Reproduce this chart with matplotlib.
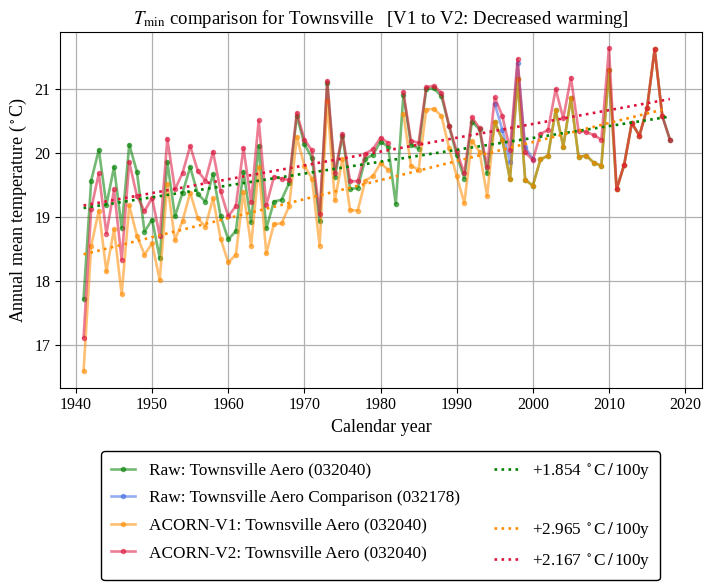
import numpy as np
import matplotlib
matplotlib.use('Agg')
import matplotlib.pyplot as plt
from matplotlib.lines import Line2D

plt.rcParams['font.family'] = ['Liberation Serif', 'DejaVu Serif']
plt.rcParams['mathtext.fontset'] = 'stix'

station = 'Townsville'

# Raw: Townsville Aero (032040), 1941-2018
yearsRaw = list(range(1941, 2019))
tRaw = [17.72, 19.57, 20.05, 19.19, 19.78, 18.83, 20.13, 19.71, 18.77, 18.96,
        18.36, 19.86, 19.01, 19.38, 19.78, 19.36, 19.24, 19.67, 19.01, 18.65,
        18.78, 19.71, 18.92, 20.11, 18.82, 19.24, 19.27, 19.53, 20.58, 20.14,
        19.92, 18.93, 21.09, 19.62, 20.27, 19.44, 19.45, 19.91, 19.97, 20.18,
        20.10, 19.20, 20.91, 20.13, 20.07, 21.00, 21.01, 20.89, 20.42, 19.97,
        19.60, 20.49, 20.37, 19.68, 20.48, 20.21, 19.59, 21.15, 19.58, 19.49,
        19.90, 19.96, 20.67, 20.10, 20.86, 19.94, 19.96, 19.85, 19.80, 21.30,
        19.43, 19.82, 20.47, 20.27, 20.70, 21.62, 20.58, 20.21]

# Raw: Townsville Aero Comparison (032178), 1995-2000
yearsComp = list(range(1995, 2001))
tComp = [20.77, 20.36, 19.86, 21.41, 20.09, 19.91]

# ACORN-V1, 1941-2017 (1982 missing)
yearsV1 = list(range(1941, 2018))
tV1 = [16.59, 18.55, 19.10, 18.15, 18.81, 17.79, 19.18, 18.71, 18.41, 18.59,
       18.01, 19.52, 18.64, 18.94, 19.38, 18.98, 18.85, 19.29, 18.66, 18.29,
       18.41, 19.39, 18.55, 19.78, 18.43, 18.89, 18.90, 19.17, 20.25, 19.80,
       19.60, 18.55, 20.81, 19.26, 19.91, 19.11, 19.10, 19.57, 19.64, 19.84,
       19.74, np.nan, 20.61, 19.80, 19.74, 20.68, 20.69, 20.58, 20.08, 19.64,
       19.22, 20.19, 20.02, 19.33, 20.48, 20.21, 19.59, 21.15, 19.58, 19.49,
       19.90, 19.96, 20.67, 20.10, 20.86, 19.94, 19.96, 19.85, 19.80, 21.30,
       19.43, 19.82, 20.47, 20.27, 20.70, 21.62, 20.58]

# ACORN-V2, 1941-2018 (1982 missing)
yearsV2 = list(range(1941, 2019))
tV2 = [17.11, 19.13, 19.68, 18.74, 19.43, 18.33, 19.86, 19.33, 19.09, 19.30,
       18.70, 20.22, 19.43, 19.69, 20.11, 19.72, 19.57, 20.02, 19.40, 19.01,
       19.17, 20.08, 19.23, 20.51, 19.18, 19.63, 19.60, 19.58, 20.63, 20.21,
       20.04, 19.04, 21.13, 19.69, 20.30, 19.56, 19.56, 19.99, 20.06, 20.24,
       20.16, np.nan, 20.95, 20.19, 20.16, 21.03, 21.05, 20.94, 20.43, 20.03,
       19.68, 20.56, 20.39, 19.78, 20.87, 20.58, 20.05, 21.47, 20.01, 19.89,
       20.30, 20.36, 21.00, 20.54, 21.18, 20.35, 20.33, 20.28, 20.21, 21.64,
       19.43, 19.82, 20.47, 20.27, 20.70, 21.62, 20.58, 20.21]

trendPer100 = [1.854, 2.965, 2.167]   # raw, V1, V2

series = [
    {"x": yearsRaw,  "y": tRaw,  "tag": "Raw: Townsville Aero (032040)",            "color": "green"},
    {"x": yearsComp, "y": tComp, "tag": "Raw: Townsville Aero Comparison (032178)", "color": "royalblue"},
    {"x": yearsV1,   "y": tV1,   "tag": "ACORN-V1: Townsville Aero (032040)",       "color": "darkorange"},
    {"x": yearsV2,   "y": tV2,   "tag": "ACORN-V2: Townsville Aero (032040)",       "color": "crimson"},
]

fig = plt.figure(figsize=(7.14, 5.84), dpi=100)
ax = fig.add_axes([0.084, 0.336, 0.899, 0.609])
ax.set_axisbelow(True)
ax.grid(True, color='#b0b0b0', linewidth=0.9)

dataHandles = []
for s in series:
    h, = ax.plot(s["x"], s["y"], color=s["color"], alpha=0.55, linewidth=1.9,
                 marker='o', ms=3)
    dataHandles.append(h)

# linear trends
trendHandles = []
for s, rate in zip([series[0], series[2], series[3]], trendPer100):
    x = np.array(s["x"], dtype=float)
    y = np.array(s["y"], dtype=float)
    ok = ~np.isnan(y)
    p = np.polyfit(x[ok], y[ok], 1)
    xx = np.array([x[ok][0], x[ok][-1]])
    h, = ax.plot(xx, np.polyval(p, xx), ':', color=s["color"], linewidth=1.9)
    h.set_label(r'+%.3f $^\circ$C$\,/\,$100y' % rate)
    trendHandles.append(h)

ax.set_xlim(1937.9, 2022.2)
ax.set_ylim(16.33, 21.89)
ax.set_xticks(range(1940, 2021, 10))
ax.set_yticks([17, 18, 19, 20, 21])
ax.tick_params(labelsize=11.5)
ax.set_xlabel('Calendar year', fontsize=13)
ax.set_ylabel(r'Annual mean temperature ($^\circ$C)', fontsize=13)
ax.set_title(r'$T_\mathrm{min}$ comparison for %s   [V1 to V2: Decreased warming]' % station,
             fontsize=13.5)

blank = Line2D([], [], linestyle='none', marker='none')
handles = [dataHandles[0], dataHandles[1], dataHandles[2], dataHandles[3],
           trendHandles[0], blank, trendHandles[1], trendHandles[2]]
labels = [s["tag"] for s in series] + [trendHandles[0].get_label(), '',
                                       trendHandles[1].get_label(),
                                       trendHandles[2].get_label()]
leg = fig.legend(handles, labels,
                 ncol=2, loc='upper center', bbox_to_anchor=(0.533, 0.242),
                 fontsize=12.4, frameon=True, fancybox=True, edgecolor='black',
                 framealpha=1, handlelength=1.4, handletextpad=0.8,
                 labelspacing=0.66, columnspacing=2.0, borderpad=0.55)
leg.get_frame().set_linewidth(1.0)

plt.savefig('out.png', dpi=100)
